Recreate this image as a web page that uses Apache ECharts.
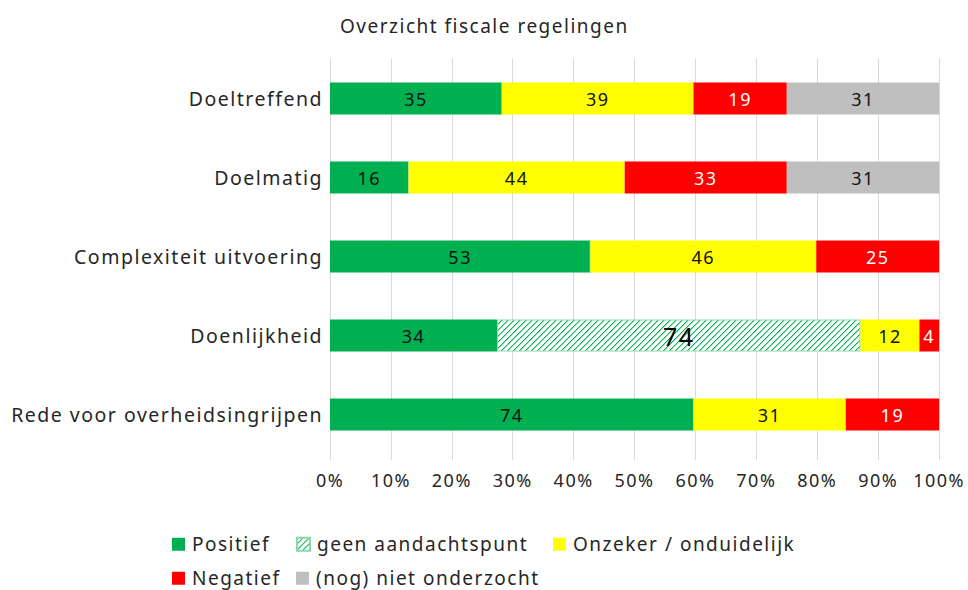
<!DOCTYPE html>
<html>
<head>
<meta charset="utf-8">
<script src="https://cdn.jsdelivr.net/npm/echarts@6/dist/echarts.min.js"></script>
<style>
  html, body { margin: 0; padding: 0; background: #fff; }
  #chart { width: 968px; height: 590px; }
  /* the source chart has slightly spaced-out lettering */
  #chart svg text { letter-spacing: 1.5px; }
</style>
</head>
<body>
<div id="chart"></div>
<script>
const categories = ['Doeltreffend', 'Doelmatig', 'Complexiteit uitvoering', 'Doenlijkheid', 'Rede voor overheidsingrijpen'];
const positief = [35, 16, 53, 34, 74];
const geenAandachtspunt = [0, 0, 0, 74, 0];
const onzeker = [39, 44, 46, 12, 31];
const negatief = [19, 33, 25, 4, 19];
const nietOnderzocht = [31, 31, 0, 0, 0];
const xTicks = [0, 10, 20, 30, 40, 50, 60, 70, 80, 90, 100];

const totals = categories.map((c, i) =>
  positief[i] + geenAandachtspunt[i] + onzeker[i] + negatief[i] + nietOnderzocht[i]);

function pct(arr) {
  return arr.map((v, i) => v / totals[i] * 100);
}

// measure text with the same letter spacing so alignment stays right
let measureCtx = document.createElement('canvas').getContext('2d');
echarts.setPlatformAPI({
  measureText: function (text, font) {
    measureCtx.font = font || '12px sans-serif';
    measureCtx.letterSpacing = '1.5px';
    return measureCtx.measureText(text);
  }
});

// diagonal hatch for "geen aandachtspunt"
function hatch() {
  let n = 6;
  let c = document.createElement('canvas');
  c.width = n; c.height = n;
  let ctx = c.getContext('2d');
  ctx.fillStyle = '#fff';
  ctx.fillRect(0, 0, n, n);
  for (let x = 0; x < n; x++) {
    ctx.fillStyle = '#9ADDB8';
    ctx.fillRect(x, (2 * n - x) % n, 1, 1);
    ctx.fillStyle = '#00B050';
    ctx.fillRect(x, n - 1 - x, 1, 1);
  }
  return c;
}

const FONT = '"Noto Sans", "Open Sans", sans-serif';
const TXT = '#262626';

function makeSeries(name, raw, color, labelColor) {
  return {
    name: name,
    type: 'bar',
    stack: 'all',
    barWidth: 32,
    data: pct(raw),
    itemStyle: { color: color },
    label: {
      show: true,
      position: 'inside',
      color: labelColor,
      fontFamily: FONT,
      fontSize: 18,
      formatter: p => raw[p.dataIndex] ? String(raw[p.dataIndex]) : ''
    }
  };
}

let chart = echarts.init(document.getElementById('chart'), null, { renderer: 'svg' });

function legendAt(name, left, top) {
  return {
    data: [name],
    left: left,
    top: top,
    itemWidth: 13,
    itemHeight: 13,
    itemGap: 0,
    icon: 'rect',
    textStyle: { fontFamily: FONT, fontSize: 19, color: TXT, padding: [0, 0, 0, 2] }
  };
}

let hatchSeries = makeSeries('geen aandachtspunt', geenAandachtspunt, { image: hatch(), repeat: 'repeat' }, '#000');
hatchSeries.itemStyle.borderColor = '#8AD9AC';
hatchSeries.itemStyle.borderWidth = 1;
hatchSeries.label.fontSize = 25;

let option = {
  animation: false,
  title: {
    text: 'Overzicht fiscale regelingen',
    left: 335,
    top: 11,
    textStyle: { fontFamily: FONT, fontSize: 19, fontWeight: 'normal', color: TXT }
  },
  legend: [
    legendAt('Positief', 167, 529),
    legendAt('geen aandachtspunt', 291, 529),
    legendAt('Onzeker / onduidelijk', 548, 529),
    legendAt('Negatief', 167, 563),
    legendAt('(nog) niet onderzocht', 291, 563)
  ],
  grid: { left: 330, right: 28, top: 59, height: 395 },
  xAxis: {
    type: 'value',
    min: 0,
    max: 100,
    interval: 10,
    axisLine: { show: false },
    axisTick: { show: true, length: 6, lineStyle: { color: '#D9D9D9' } },
    splitLine: { lineStyle: { color: '#D9D9D9', width: 1 } },
    axisLabel: {
      formatter: v => xTicks.indexOf(v) >= 0 ? v + '%' : '',
      fontFamily: FONT, fontSize: 18, color: TXT, margin: 16
    }
  },
  yAxis: {
    type: 'category',
    inverse: true,
    data: categories,
    axisLine: { show: false },
    axisTick: { show: false },
    axisLabel: { fontFamily: FONT, fontSize: 19.5, color: TXT, margin: 7 }
  },
  series: [
    makeSeries('Positief', positief, '#00B050', '#111'),
    hatchSeries,
    makeSeries('Onzeker / onduidelijk', onzeker, '#FFFF00', '#111'),
    makeSeries('Negatief', negatief, '#FF0000', '#fff'),
    makeSeries('(nog) niet onderzocht', nietOnderzocht, '#BFBFBF', '#111')
  ]
};

chart.setOption(option);
</script>
</body>
</html>
